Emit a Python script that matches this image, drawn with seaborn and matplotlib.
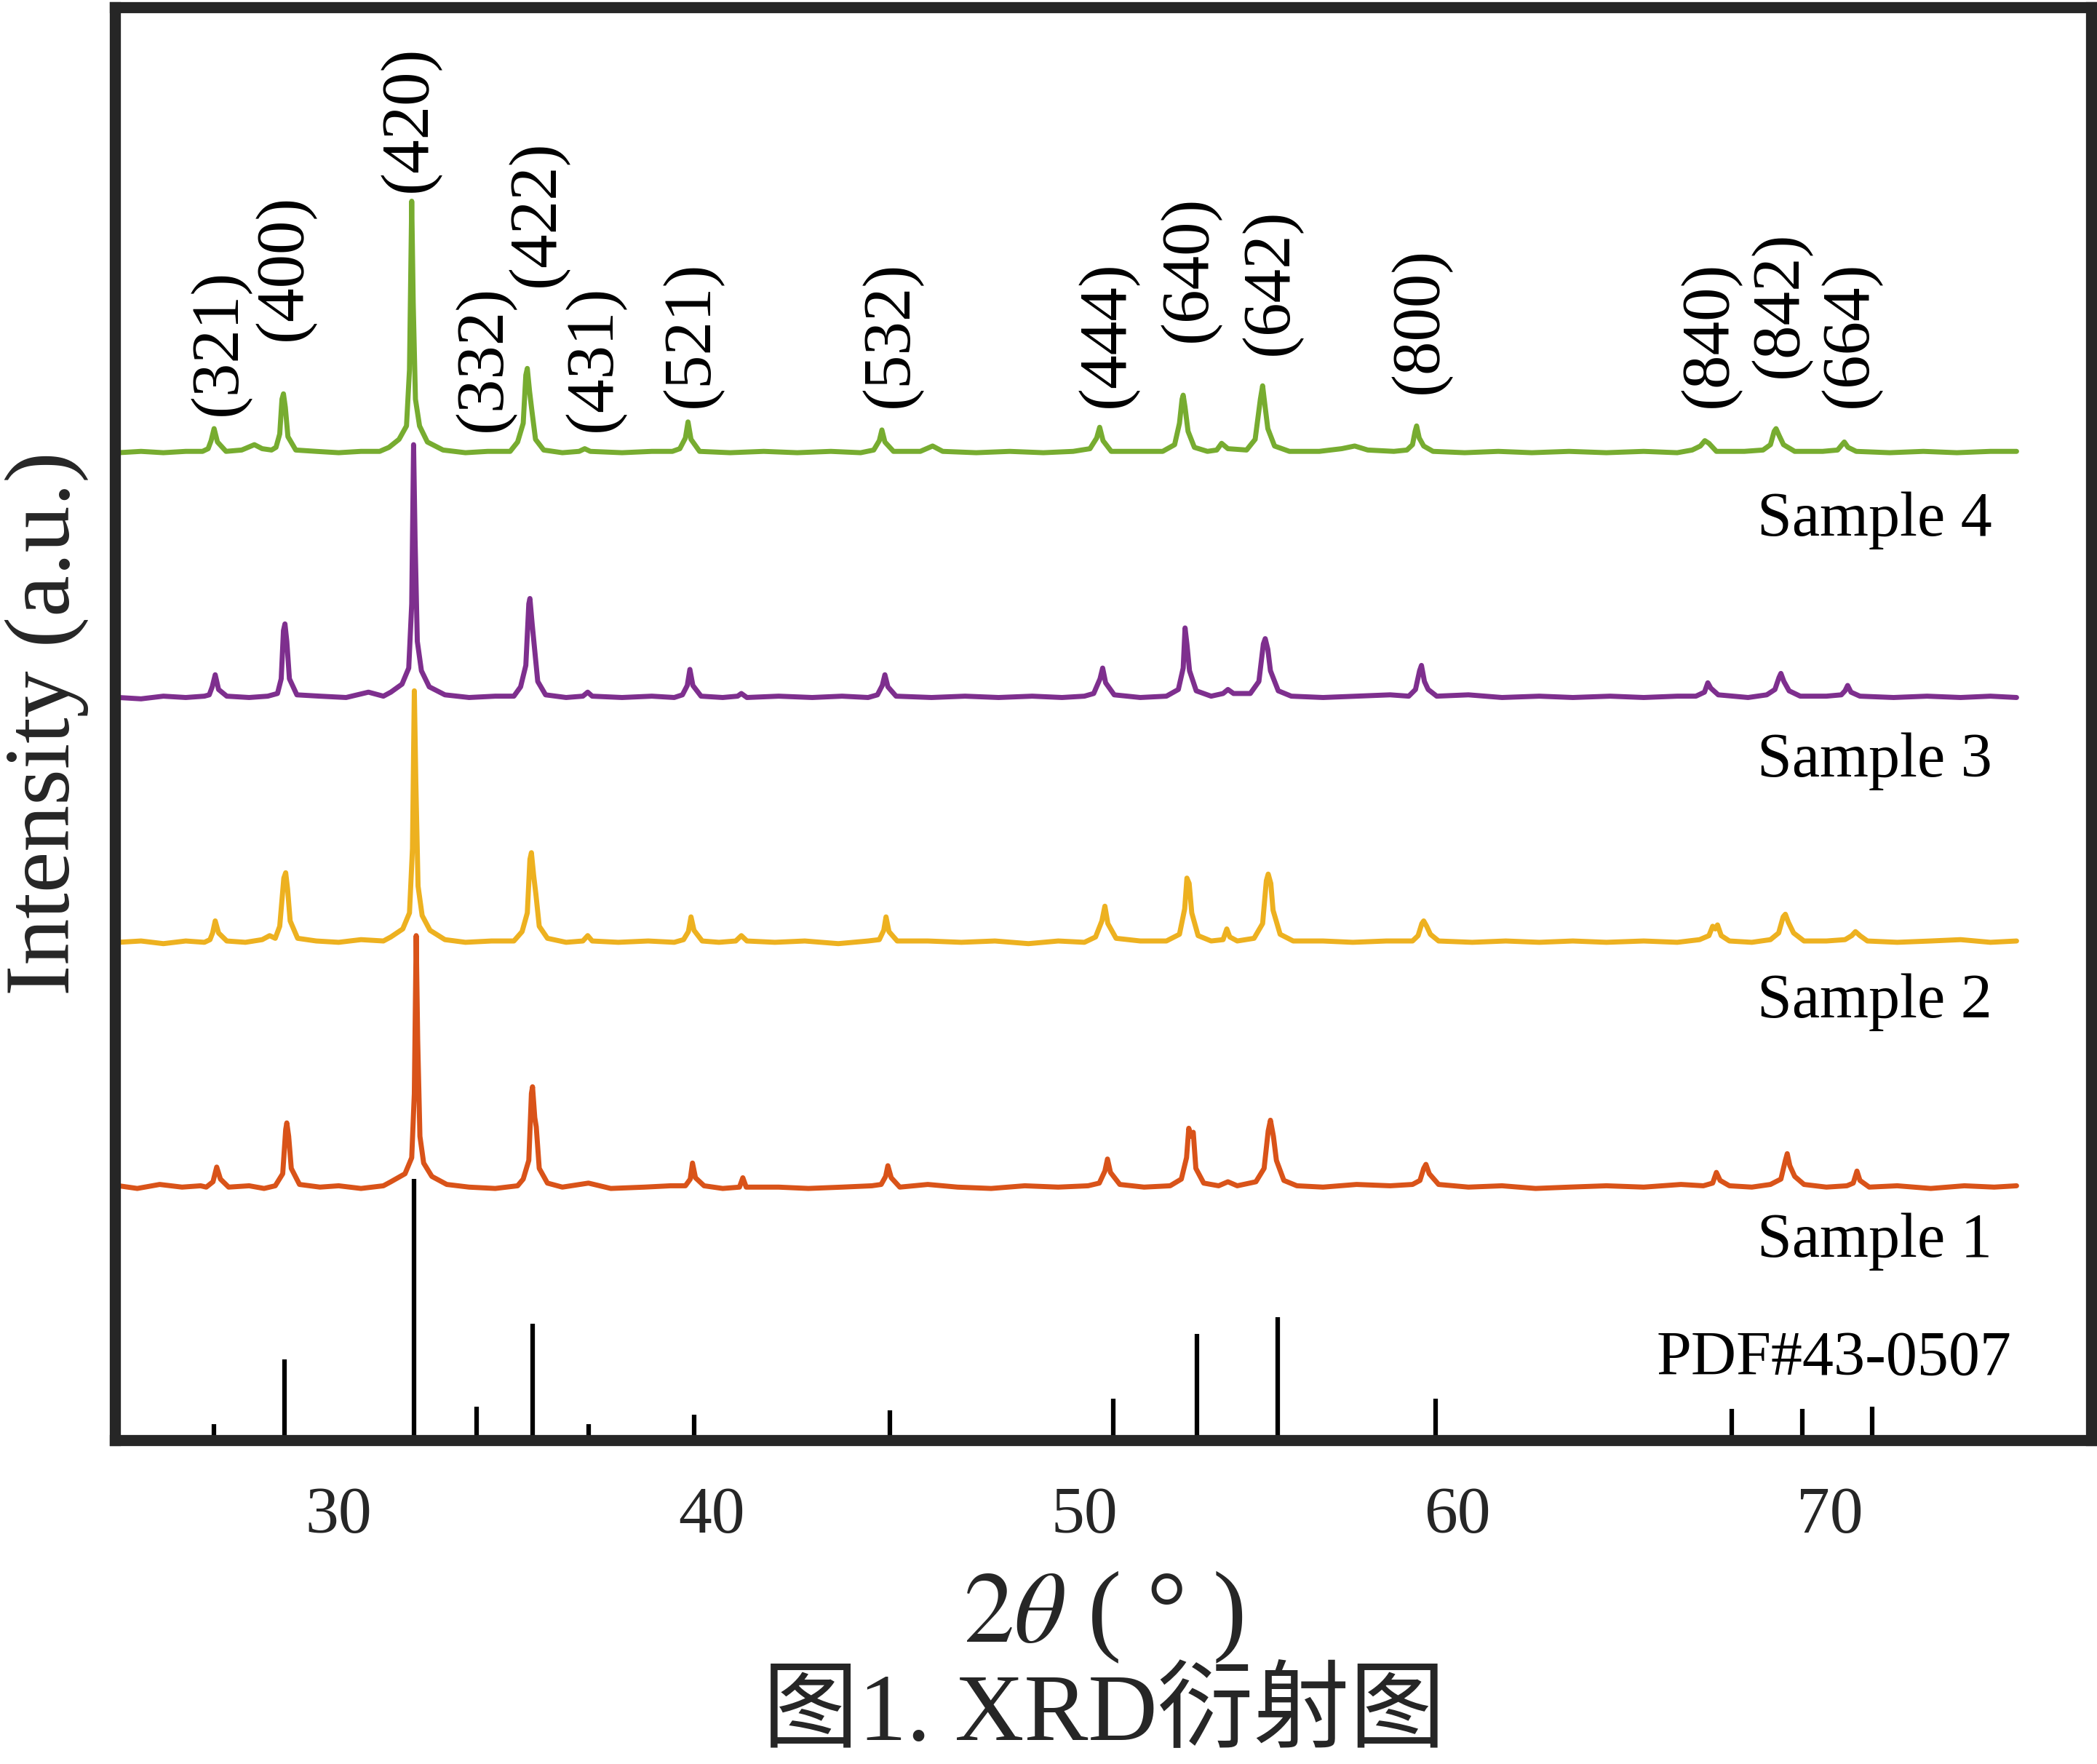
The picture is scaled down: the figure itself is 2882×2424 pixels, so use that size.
import numpy as np
import pandas as pd
import seaborn as sns
import matplotlib.pyplot as plt

# XRD patterns (2theta, intensity a.u.), each relative to its own baseline
sample1 = [(24.1, 1), (24.6, -1), (25.2, 2), (25.8, 0), (26.3, 1),
           (26.45, 0), (26.63, 4), (26.73, 15), (26.83, 6), (27.05, 0),
           (27.6, 1), (28.0, -1),
           (28.3, 1), (28.5, 10), (28.58, 43), (28.61, 48), (28.66, 38), (28.73, 14), (28.95, 2),
           (29.5, 0), (30.0, 1), (30.6, -1), (31.2, 1),
           (31.4, 4), (31.78, 10), (31.96, 22), (32.03, 70), (32.08, 188), (32.12, 110), (32.18, 38),
           (32.28, 18), (32.5, 8), (32.9, 2),
           (33.5, 0), (34.2, -1), (34.8, 1),
           (34.95, 6), (35.1, 20), (35.17, 70), (35.2, 75), (35.26, 52), (35.3, 45), (35.38, 14), (35.6, 3),
           (36.0, 0), (36.7, 3), (37.3, -1), (38.2, 0), (38.9, 1),
           (39.3, 1), (39.43, 6), (39.49, 18), (39.57, 7), (39.8, 1),
           (40.3, -1), (40.75, 0), (40.84, 7), (40.93, 0),
           (41.8, 0), (42.6, -1), (43.5, 0), (44.3, 1),
           (44.55, 2), (44.67, 8), (44.73, 16), (44.82, 7), (45.05, 0),
           (45.8, 2), (46.6, 0), (47.5, -1), (48.4, 1), (49.3, 0), (50.1, 1),
           (50.4, 3), (50.55, 12), (50.62, 21), (50.7, 11), (50.95, 2),
           (51.6, 0), (52.3, 1),
           (52.6, 6), (52.74, 22), (52.8, 44), (52.86, 38), (52.92, 41), (52.99, 14), (53.2, 3),
           (53.6, 1), (53.85, 4), (54.1, 1), (54.6, 4),
           (54.82, 14), (54.93, 42), (54.99, 50), (55.07, 38), (55.15, 20), (55.35, 5), (55.7, 1),
           (56.4, 0), (57.3, 2), (58.2, 1), (58.8, 2),
           (59.0, 5), (59.1, 14), (59.16, 17), (59.25, 10), (59.5, 2),
           (60.3, 0), (61.2, 1), (62.1, -1), (63.0, 0), (64.0, 1), (65.0, 0), (66.0, 2), (66.6, 1),
           (66.85, 3), (66.95, 11), (67.05, 5), (67.3, 1),
           (67.9, 0), (68.4, 2),
           (68.68, 6), (68.8, 20), (68.85, 25), (68.92, 16), (69.05, 8), (69.3, 2),
           (69.9, 0), (70.45, 1),
           (70.62, 3), (70.72, 12), (70.8, 5), (71.05, 0),
           (71.8, 1), (72.7, -1), (73.6, 1), (74.4, 0), (75.0, 1)]

sample2 = [(24.1, 0), (24.7, 1), (25.3, -1), (25.9, 1), (26.4, 0),
           (26.55, 2), (26.62, 7), (26.69, 16), (26.78, 7), (27.0, 1),
           (27.5, 0), (27.95, 2), (28.15, 5), (28.3, 3),
           (28.42, 12), (28.53, 48), (28.58, 52), (28.63, 40), (28.7, 16), (28.9, 3),
           (29.4, 1), (30.0, 0), (30.6, 2), (31.2, 1),
           (31.4, 4), (31.72, 10), (31.9, 22), (31.98, 70), (32.03, 188), (32.07, 120), (32.13, 42),
           (32.24, 20), (32.45, 9), (32.85, 2),
           (33.4, 0), (34.1, 1), (34.7, 1),
           (34.92, 8), (35.06, 22), (35.13, 62), (35.17, 67), (35.23, 50), (35.29, 36), (35.38, 12), (35.6, 3),
           (36.1, 0), (36.55, 1), (36.68, 5), (36.8, 1), (37.5, 0), (38.3, 1), (39.0, 0),
           (39.25, 2), (39.38, 8), (39.45, 19), (39.53, 9), (39.75, 1),
           (40.2, 0), (40.65, 1), (40.8, 5), (40.95, 1),
           (41.7, 0), (42.5, 1), (43.4, -1), (44.2, 1),
           (44.5, 2), (44.62, 9), (44.68, 19), (44.76, 8), (44.98, 1),
           (45.8, 1), (46.7, 0), (47.6, 1), (48.5, -1), (49.3, 1), (50.0, 0),
           (50.3, 4), (50.47, 16), (50.55, 27), (50.63, 14), (50.85, 3),
           (51.5, 1), (52.2, 1),
           (52.55, 6), (52.69, 25), (52.75, 48), (52.81, 44), (52.88, 22), (53.05, 5), (53.4, 1),
           (53.72, 2), (53.82, 10), (53.9, 4), (54.1, 1), (54.55, 3),
           (54.78, 14), (54.88, 46), (54.93, 51), (55.0, 44), (55.06, 24), (55.25, 6), (55.6, 1),
           (56.4, 1), (57.2, 0), (58.1, 1), (58.8, 1),
           (58.95, 5), (59.05, 14), (59.1, 16), (59.18, 12), (59.28, 6), (59.5, 1),
           (60.4, 0), (61.3, 1), (62.2, 0), (63.1, 1), (64.0, 0), (65.0, 1), (65.9, 0), (66.5, 2),
           (66.75, 5), (66.85, 12), (66.92, 10), (66.98, 13), (67.08, 5), (67.3, 1),
           (67.9, 0), (68.4, 2),
           (68.62, 7), (68.74, 19), (68.8, 21), (68.88, 15), (69.02, 7), (69.3, 1),
           (69.9, 1), (70.4, 2), (70.58, 5), (70.68, 8), (70.8, 5), (71.0, 1),
           (71.8, 0), (72.7, 1), (73.5, 2), (74.3, 0), (75.0, 1)]

sample3 = [(24.1, 0), (24.7, -1), (25.3, 1), (25.9, 0), (26.4, 1),
           (26.53, 2), (26.61, 8), (26.69, 17), (26.78, 6), (27.0, 1),
           (27.6, 0), (28.1, 1),
           (28.36, 3), (28.46, 14), (28.52, 50), (28.56, 55), (28.61, 42), (28.68, 14), (28.88, 2),
           (29.5, 1), (30.2, 0), (30.8, 4), (31.2, 1),
           (31.4, 4), (31.7, 10), (31.88, 22), (31.96, 70), (32.01, 189), (32.05, 118), (32.11, 42),
           (32.22, 20), (32.43, 8), (32.85, 2),
           (33.5, 0), (34.2, 1), (34.7, 1),
           (34.88, 8), (35.02, 24), (35.1, 70), (35.13, 74), (35.19, 55), (35.25, 38), (35.34, 12), (35.55, 2),
           (36.1, 0), (36.55, 1), (36.68, 4), (36.8, 1), (37.6, 0), (38.4, 1), (39.0, 0),
           (39.22, 2), (39.35, 9), (39.42, 21), (39.5, 9), (39.72, 1),
           (40.3, 0), (40.7, 1), (40.8, 3), (40.95, 0),
           (41.8, 1), (42.7, 0), (43.5, 1), (44.2, 0),
           (44.45, 2), (44.58, 9), (44.65, 17), (44.73, 8), (44.95, 1),
           (45.9, 0), (46.8, 1), (47.7, 0), (48.6, 1), (49.4, 0), (50.0, 1),
           (50.25, 3), (50.42, 14), (50.49, 22), (50.57, 11), (50.8, 2),
           (51.5, 0), (52.2, 1),
           (52.52, 6), (52.65, 22), (52.7, 52), (52.75, 40), (52.82, 20), (53.0, 5), (53.4, 1),
           (53.72, 3), (53.85, 6), (54.0, 3), (54.45, 3),
           (54.68, 12), (54.8, 40), (54.85, 44), (54.92, 36), (54.99, 20), (55.2, 5), (55.55, 1),
           (56.4, 0), (57.3, 1), (58.2, 2), (58.7, 1),
           (58.88, 6), (58.99, 20), (59.04, 24), (59.12, 12), (59.22, 6), (59.45, 1),
           (60.3, 2), (61.2, 0), (62.2, 1), (63.1, 0), (64.1, 1), (65.0, 0), (65.9, 1), (66.4, 1),
           (66.63, 4), (66.72, 11), (66.8, 7), (67.0, 2),
           (67.8, 0), (68.3, 2),
           (68.52, 6), (68.63, 15), (68.68, 18), (68.76, 12), (68.9, 5), (69.2, 1),
           (69.9, 1), (70.3, 2), (70.4, 5), (70.47, 9), (70.56, 4), (70.8, 1),
           (71.7, 0), (72.6, 1), (73.5, 0), (74.3, 1), (75.0, 0)]

sample4 = [(24.1, 0), (24.7, 1), (25.3, 0), (25.9, 1), (26.35, 1),
           (26.5, 3), (26.58, 9), (26.66, 18), (26.75, 8), (26.98, 1),
           (27.4, 2), (27.74, 6), (27.95, 3), (28.2, 2),
           (28.32, 4), (28.42, 14), (28.48, 40), (28.52, 44), (28.57, 34), (28.64, 12), (28.85, 2),
           (29.4, 1), (30.0, 0), (30.6, 1), (31.1, 1),
           (31.35, 4), (31.62, 10), (31.82, 20), (31.9, 62), (31.96, 188), (32.0, 112), (32.06, 40),
           (32.17, 20), (32.38, 8), (32.8, 2),
           (33.4, 0), (34.0, 1), (34.6, 1),
           (34.8, 8), (34.95, 22), (35.02, 58), (35.06, 63), (35.12, 46), (35.18, 32), (35.28, 10), (35.5, 2),
           (36.0, 0), (36.45, 1), (36.6, 3), (36.75, 1), (37.6, 0), (38.4, 1), (38.95, 1),
           (39.15, 3), (39.3, 11), (39.37, 23), (39.45, 10), (39.68, 1),
           (40.5, 0), (41.4, 1), (42.3, 0), (43.2, 1), (44.0, 0),
           (44.35, 2), (44.5, 9), (44.57, 17), (44.65, 8), (44.88, 1),
           (45.6, 1), (45.93, 5), (46.2, 1), (47.1, 0), (48.0, 1), (48.9, 0), (49.7, 1),
           (50.15, 3), (50.33, 11), (50.41, 19), (50.5, 9), (50.72, 1),
           (51.4, 1), (52.1, 1),
           (52.42, 6), (52.55, 22), (52.62, 40), (52.65, 43), (52.7, 34), (52.78, 16), (52.95, 4), (53.3, 1),
           (53.55, 2), (53.68, 7), (53.85, 3), (54.35, 2),
           (54.58, 10), (54.72, 40), (54.78, 50), (54.84, 36), (54.92, 18), (55.1, 5), (55.5, 1),
           (56.3, 1), (56.9, 3), (57.25, 5), (57.6, 2), (58.3, 1), (58.65, 2),
           (58.8, 6), (58.87, 16), (58.91, 20), (58.98, 11), (59.1, 5), (59.35, 1),
           (60.2, 0), (61.1, 1), (62.0, 0), (63.0, 1), (64.0, 0), (65.0, 1), (65.9, 0), (66.3, 2),
           (66.52, 5), (66.64, 9), (66.75, 7), (66.95, 1),
           (67.7, 1), (68.2, 2),
           (68.4, 6), (68.5, 16), (68.55, 18), (68.63, 13), (68.75, 6), (69.05, 1),
           (69.8, 1), (70.2, 2), (70.32, 6), (70.38, 8), (70.48, 4), (70.7, 1),
           (71.6, 0), (72.5, 1), (73.4, 0), (74.3, 1), (75.0, 1)]

sample_names = ["Sample 1", "Sample 2", "Sample 3", "Sample 4"]
colors = ["#D95319", "#EDB120", "#7E2F8E", "#77AC30"]

# standard card PDF#43-0507
pdf_pos = [26.65, 28.54, 32.03, 33.70, 35.21, 36.71, 39.54, 44.79, 50.78, 53.01, 55.19, 59.41, 67.36, 69.25, 71.13]
pdf_int = [12, 60, 195, 25, 87, 12, 19, 22, 31, 79, 92, 31, 23, 23, 25]

# hkl labels and where they sit (2theta, bottom of text)
hkl = ["(321)", "(400)", "(420)", "(332)", "(422)", "(431)", "(521)", "(532)",
       "(444)", "(640)", "(642)", "(800)", "(840)", "(842)", "(664)"]
hkl_x = [26.8, 28.54, 31.9, 33.9, 35.33, 36.86, 39.47, 44.82, 50.6, 52.81, 54.99, 59.0, 66.76, 68.65, 70.54]
hkl_y = [766, 822, 933, 754, 862, 754, 772, 772, 772, 821, 811, 782, 772, 794, 772]

offsets = [189, 372, 555, 738]

# long form table
rows = []
for name, data, off in zip(sample_names, [sample1, sample2, sample3, sample4], offsets):
    for tt, inten in data:
        rows.append({"two_theta": tt, "y": inten + off, "sample": name})
df = pd.DataFrame(rows)

sns.set_style("white")
plt.rcParams["font.family"] = ["Liberation Serif", "Noto Sans CJK SC"]
plt.rcParams["mathtext.fontset"] = "stix"

fig = plt.figure(figsize=(28.82, 24.24), dpi=100)
ax = fig.add_axes([0.0548, 0.1837, 0.9424, 0.8122])

sns.lineplot(data=df, x="two_theta", y="y", hue="sample", palette=colors,
             sort=False, estimator=None, legend=False, linewidth=5, ax=ax)
ax.vlines(pdf_pos, 0, pdf_int, color="black", linewidth=4.5, zorder=1)

for lab, xx, yy in zip(hkl, hkl_x, hkl_y):
    ax.text(xx, yy, lab, rotation=90, ha="center", va="bottom", fontsize=67, color="black")

# sample names (baseline positions)
for name, yy in zip(sample_names, [137, 316, 496, 676]):
    ax.text(74.35, yy, name, ha="right", va="baseline", fontsize=62, color="black")
ax.text(74.87, 49, "PDF#43-0507", ha="right", va="baseline", fontsize=62, color="black")

ax.set_xlim(24.0, 77.0)
ax.set_ylim(0, 1071)
ax.set_xticks([30, 40, 50, 60, 70])
ax.set_yticks([])
ax.tick_params(axis="x", length=0, pad=46, labelsize=66, labelcolor="#262626")
for sp in ax.spines.values():
    sp.set_visible(True)
    sp.set_linewidth(11)
    sp.set_color("#262626")

ax.set_xlabel(r"$2\theta$ ( ° )", fontsize=100, color="#262626")
ax.xaxis.set_label_coords(0.5, -0.09)
ax.set_ylabel("")
ax.text(-0.0345, 0.5, "Intensity (a.u.)", transform=ax.transAxes, rotation=90,
        ha="center", va="center", fontsize=92, color="#262626")

fig.text(0.5265, 0.027, "图1. XRD衍射图", ha="center", va="center", fontsize=95, color="#262626")

fig.savefig("out.png", dpi=100)
